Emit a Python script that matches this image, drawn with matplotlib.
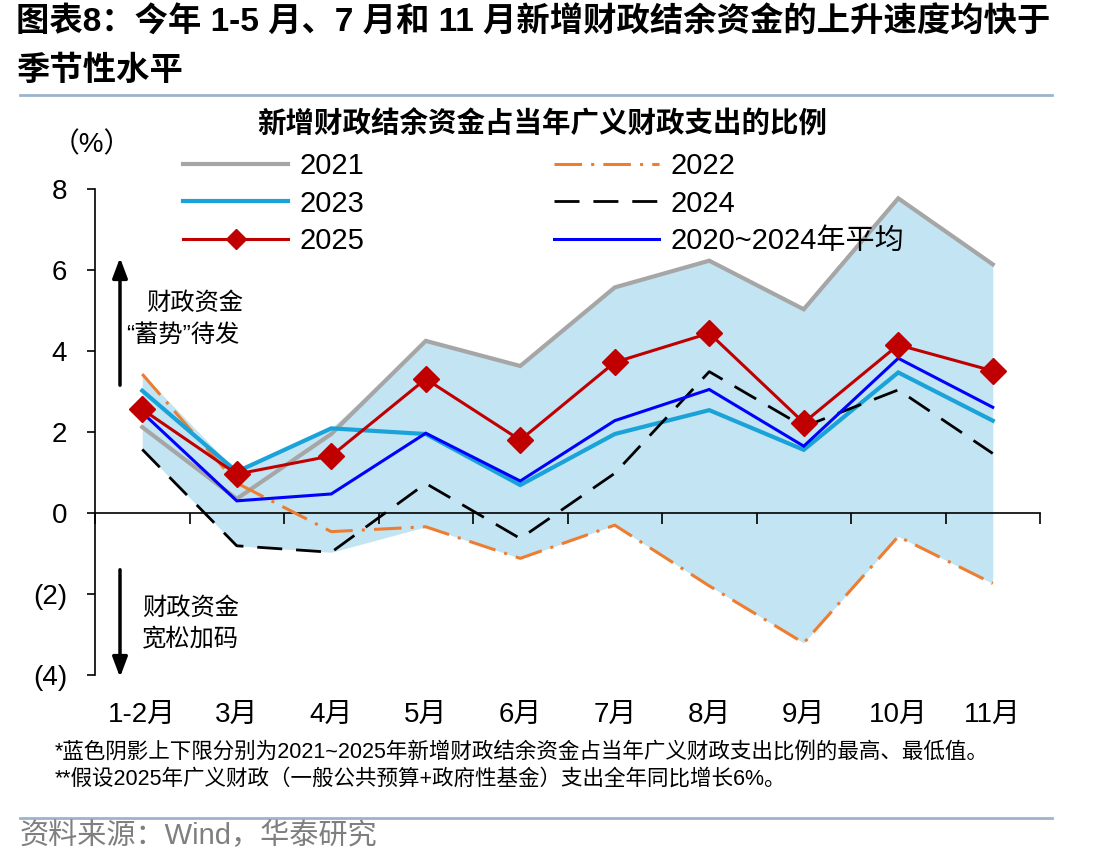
import numpy as np
import matplotlib
matplotlib.use('Agg')
import matplotlib.pyplot as plt
import matplotlib.transforms as mtransforms
from matplotlib.ticker import FuncFormatter

plt.rcParams['font.family'] = ['Liberation Sans', 'Noto Sans CJK SC']
plt.rcParams['axes.unicode_minus'] = False

# data (% of broad fiscal expenditure)
months = ['1-2月', '3月', '4月', '5月', '6月', '7月', '8月', '9月', '10月', '11月']
y2021 = [2.12, 0.35, 1.95, 4.25, 3.63, 5.57, 6.23, 5.03, 7.77, 6.14]
y2022 = [3.43, 0.74, -0.46, -0.34, -1.12, -0.30, -1.80, -3.21, -0.58, -1.74]
y2023 = [3.02, 1.02, 2.09, 1.95, 0.69, 1.95, 2.54, 1.56, 3.47, 2.28]
y2024 = [1.57, -0.81, -0.97, 0.73, -0.63, 0.98, 3.49, 2.13, 3.04, 1.47]
y2025 = [2.56, 0.96, 1.41, 3.31, 1.80, 3.72, 4.44, 2.23, 4.15, 3.51]
avg_2020_2024 = [2.48, 0.30, 0.47, 1.97, 0.79, 2.28, 3.05, 1.65, 3.82, 2.61]

yticks = [-4, -2, 0, 2, 4, 6, 8]

W, H = 1112, 866


def fx(px):
    return px / W


def fy(py):
    return 1 - py / H


fig = plt.figure(figsize=(W / 100, H / 100), dpi=100)
ax = fig.add_axes([fx(95), fy(675), fx(1040) - fx(95), fy(189) - fy(675)])

x = np.arange(len(months))
allyears = np.array([y2021, y2022, y2023, y2024, y2025])
ax.fill_between(x, allyears.min(axis=0), allyears.max(axis=0),
                color='#C2E4F3', lw=0, zorder=1)

l21, = ax.plot(x, y2021, color='#A6A6A6', lw=3.0, zorder=2, solid_joinstyle='miter')
l22, = ax.plot(x, y2022, color='#ED7D31', lw=2.2, dashes=(9, 3, 1, 3), zorder=3)
l23, = ax.plot(x, y2023, color='#1AA3D8', lw=3.0, zorder=4, solid_joinstyle='miter')
l24, = ax.plot(x, y2024, color='black', lw=2.0, dashes=(9, 5), zorder=5)
lavg, = ax.plot(x, avg_2020_2024, color='#0000FF', lw=2.2, zorder=6, solid_joinstyle='miter')
l25, = ax.plot(x, y2025, color='#C00000', lw=2.2, marker='D', markersize=13,
               zorder=7, solid_joinstyle='miter')

ax.set_xlim(-0.5, 9.5)
ax.set_ylim(-4, 8)
ax.spines['top'].set_visible(False)
ax.spines['right'].set_visible(False)
ax.spines['bottom'].set_position(('data', 0))
ax.spines['bottom'].set_linewidth(1.2)
ax.spines['left'].set_linewidth(1.2)

ax.set_xticks(np.arange(-0.5, 10, 1))
ax.set_xticklabels([])
ax.tick_params(axis='x', direction='out', length=8, width=1.2)
ax.set_yticks(yticks)
ax.yaxis.set_major_formatter(FuncFormatter(lambda v, p: f'({abs(int(v))})' if v < 0 else f'{int(v)}'))
ax.tick_params(axis='y', direction='out', length=6, width=1.2, labelsize=20, pad=14)

trans = mtransforms.blended_transform_factory(ax.transData, ax.transAxes)
for i, m in enumerate(months):
    ax.text(i, -0.083, m, transform=trans, ha='center', va='center', fontsize=20)

leg = ax.legend([l21, l23, l25, l22, l24, lavg],
                ['2021', '2023', '2025', '2022', '2024', '2020~2024年平均'],
                ncol=2, loc='upper left', bbox_to_anchor=(fx(183), fy(152)),
                bbox_transform=fig.transFigure, frameon=False, fontsize=21,
                handlelength=3.6, handletextpad=0.4, columnspacing=6.5,
                labelspacing=0.33, borderpad=0, borderaxespad=0, markerscale=0.75)

# arrows and notes
ax.annotate('', xy=(fx(120), fy(255)), xytext=(fx(120), fy(388)),
            xycoords='figure fraction', textcoords='figure fraction',
            arrowprops=dict(arrowstyle='-|>,head_width=0.45,head_length=1.2', color='black', lw=2.5))
ax.annotate('', xy=(fx(120), fy(680)), xytext=(fx(120), fy(567)),
            xycoords='figure fraction', textcoords='figure fraction',
            arrowprops=dict(arrowstyle='-|>,head_width=0.45,head_length=1.2', color='black', lw=2.5))
fig.text(fx(146), fy(303), '财政资金', fontsize=17.5, va='center', ha='left')
fig.text(fx(126), fy(335), '“蓄势”待发', fontsize=17.5, va='center', ha='left')
fig.text(fx(142), fy(608), '财政资金', fontsize=17.5, va='center', ha='left')
fig.text(fx(142), fy(640), '宽松加码', fontsize=17.5, va='center', ha='left')

# titles and footer
fig.text(fx(16), fy(23), '图表8：今年 1-5 月、7 月和 11 月新增财政结余资金的上升速度均快于',
         fontsize=24, fontweight='bold', va='center', ha='left')
fig.text(fx(16), fy(71), '季节性水平', fontsize=24, fontweight='bold', va='center', ha='left')
fig.add_artist(plt.Line2D([fx(20), fx(1052)], [fy(95), fy(95)], color='#9DB3CC', lw=2))
fig.text(fx(542), fy(125), '新增财政结余资金占当年广义财政支出的比例',
         fontsize=20.5, fontweight='bold', va='center', ha='center')
fig.text(fx(52), fy(145), '（%）', fontsize=20, va='center', ha='left')

fig.text(fx(55), fy(752), '*蓝色阴影上下限分别为2021~2025年新增财政结余资金占当年广义财政支出比例的最高、最低值。',
         fontsize=15.5, va='center', ha='left')
fig.text(fx(55), fy(779), '**假设2025年广义财政（一般公共预算+政府性基金）支出全年同比增长6%。',
         fontsize=15.5, va='center', ha='left')
fig.add_artist(plt.Line2D([fx(20), fx(1052)], [fy(818), fy(818)], color='#9DB3CC', lw=2))
fig.text(fx(20), fy(836), '资料来源：Wind，华泰研究', fontsize=21, color='#7F7F7F',
         va='center', ha='left')

fig.savefig('out.png', dpi=100)
